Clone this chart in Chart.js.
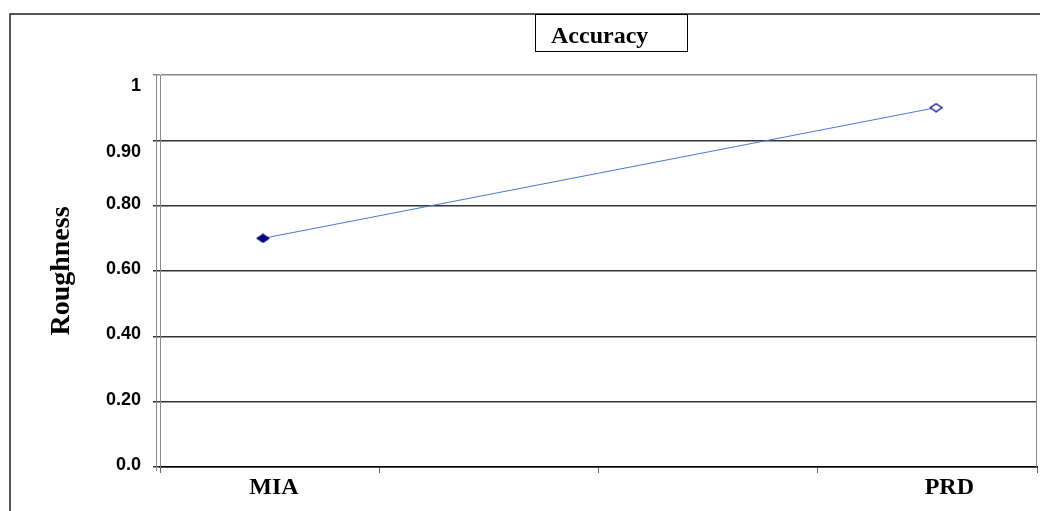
<!DOCTYPE html>
<html>
<head>
<meta charset="utf-8">
<script src="https://cdn.jsdelivr.net/npm/chart.js@4"></script>
<style>
  html, body { margin: 0; padding: 0; background: #fff; }
  canvas { display: block; }
</style>
</head>
<body>
<canvas id="roughness-chart" width="1040" height="511"></canvas>
<script>
var chartTitle = 'Accuracy';
var axisTitle = 'Roughness';
var categories = ['MIA', 'PRD'];
// place of each category on the 0..4 slot axis, and where its label sits
var categorySlots = [0.47, 3.54];
var labelSlots = [0.52, 3.6];
var roughness = [0.70, 0.95];
// the value axis is banded: equal spacing between uneven tick values
var yTickValues = [0, 0.2, 0.4, 0.6, 0.8, 0.9, 1];
var yTickLabels = ['0.0', '0.20', '0.40', '0.60', '0.80', '0.90', '1'];

function toBand(v) {
  for (var i = 0; i < yTickValues.length - 1; i++) {
    var a = yTickValues[i];
    var b = yTickValues[i + 1];
    if (v <= b) {
      return i + (v - a) / (b - a);
    }
  }
  return yTickValues.length - 1;
}

var points = categories.map(function (c, i) {
  return { x: categorySlots[i], y: toBand(roughness[i]) };
});

// flat diamond markers, wider than tall
function diamond(fill) {
  var c = document.createElement('canvas');
  c.width = 14;
  c.height = 10;
  var g = c.getContext('2d');
  g.beginPath();
  g.moveTo(1, 5);
  g.lineTo(7, 1);
  g.lineTo(13, 5);
  g.lineTo(7, 9);
  g.closePath();
  g.fillStyle = fill;
  g.fill();
  g.strokeStyle = '#000080';
  g.lineWidth = 1.3;
  g.stroke();
  return c;
}
var markers = [diamond('#000080'), diamond('#ffffff')];

var frame = {
  id: 'frame',
  beforeDraw: function (chart) {
    var ctx = chart.ctx;
    ctx.save();
    ctx.strokeStyle = '#222';
    ctx.lineWidth = 1.5;
    ctx.beginPath();
    ctx.moveTo(10, 511);
    ctx.lineTo(10, 14);
    ctx.lineTo(1040, 14);
    ctx.stroke();
    ctx.restore();
  },
  afterDraw: function (chart) {
    var ctx = chart.ctx;
    var area = chart.chartArea;
    ctx.save();
    // inner edge of the value axis and the right side of the plot
    ctx.strokeStyle = '#888';
    ctx.lineWidth = 1;
    ctx.beginPath();
    ctx.moveTo(area.left - 3.5, area.top);
    ctx.lineTo(area.left - 3.5, area.bottom + 4);
    ctx.moveTo(area.right - 0.5, area.top);
    ctx.lineTo(area.right - 0.5, area.bottom);
    ctx.stroke();

    // boxed title
    ctx.strokeStyle = '#000';
    ctx.lineWidth = 1;
    ctx.strokeRect(535.5, 14.5, 152, 37);
    ctx.fillStyle = '#000';
    ctx.font = 'bold 24px "Liberation Serif", "Times New Roman", serif';
    ctx.textBaseline = 'alphabetic';
    ctx.fillText(chartTitle, 551, 43);
    ctx.restore();
  }
};

new Chart(document.getElementById('roughness-chart'), {
  type: 'line',
  data: {
    datasets: [
      {
        data: points,
        borderColor: '#4a78d0',
        borderWidth: 1,
        pointStyle: markers,
        pointRadius: 6,
        tension: 0,
        fill: false
      }
    ]
  },
  options: {
    responsive: false,
    animation: false,
    layout: {
      autoPadding: false,
      padding: { top: 75, right: 3, left: 0, bottom: 0 }
    },
    plugins: {
      legend: { display: false },
      tooltip: { enabled: false }
    },
    scales: {
      x: {
        type: 'linear',
        position: 'bottom',
        weight: 0,
        min: 0,
        max: 4,
        afterBuildTicks: function (scale) {
          scale.ticks = [0, 1, 2, 3, 4].map(function (v) { return { value: v }; });
        },
        afterFit: function (scale) {
          scale.height = 6;
        },
        grid: {
          drawOnChartArea: false,
          drawTicks: true,
          tickLength: 6,
          color: '#666'
        },
        border: { color: '#000', width: 1.5 },
        ticks: { display: false }
      },
      x2: {
        type: 'linear',
        position: 'bottom',
        weight: 1,
        min: 0,
        max: 4,
        afterBuildTicks: function (scale) {
          scale.ticks = labelSlots.map(function (v) { return { value: v }; });
        },
        afterFit: function (scale) {
          scale.height = 38;
        },
        grid: { display: false, drawTicks: false },
        border: { display: false },
        ticks: {
          padding: 0,
          color: '#000',
          font: { family: '"Liberation Serif", "Times New Roman", serif', size: 24, weight: 'bold' },
          callback: function (value, index) {
            return categories[index];
          }
        }
      },
      y: {
        type: 'linear',
        min: 0,
        max: yTickValues.length - 1,
        afterBuildTicks: function (scale) {
          scale.ticks = yTickLabels.map(function (t, i) { return { value: i }; });
        },
        afterFit: function (scale) {
          scale.width = 160;
        },
        grid: {
          tickLength: 7,
          lineWidth: 1.5,
          color: function (context) {
            return context.tick && context.tick.value === yTickValues.length - 1 ? '#888' : '#333';
          }
        },
        border: { color: '#888', width: 1 },
        ticks: {
          padding: 12,
          labelOffset: -2,
          color: '#000',
          font: { family: '"Liberation Sans", Arial, sans-serif', size: 18, weight: 'bold', lineHeight: 1.5 },
          // the two top labels hang below their grid lines
          callback: function (value, index) {
            return index >= yTickLabels.length - 2 ? ['', yTickLabels[index]] : yTickLabels[index];
          }
        },
        title: {
          display: true,
          text: axisTitle,
          color: '#000',
          padding: { top: 45, bottom: 0 },
          font: { family: '"Liberation Serif", "Times New Roman", serif', size: 28, weight: 'bold' }
        }
      }
    }
  },
  plugins: [frame]
});
</script>
</body>
</html>
